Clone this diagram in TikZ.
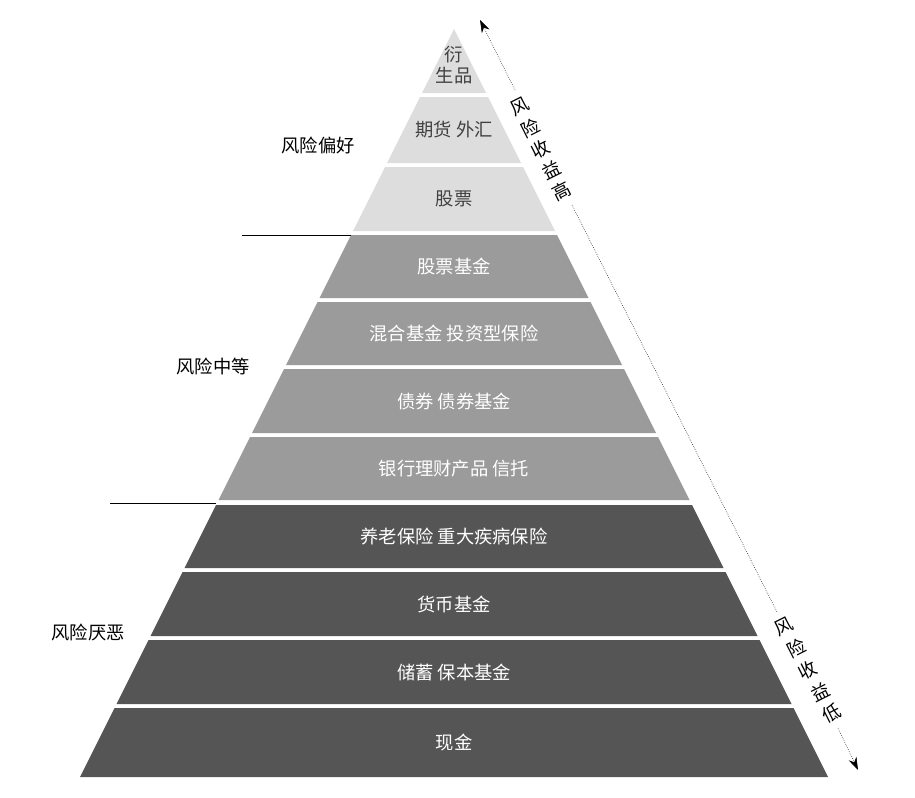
\documentclass[tikz,border=0pt]{standalone}
\usepackage{fontspec}
\setmainfont{Noto Sans CJK SC}
\usetikzlibrary{arrows.meta}
\definecolor{lightband}{RGB}{221,221,221}
\definecolor{midband}{RGB}{155,155,155}
\definecolor{darkband}{RGB}{85,85,85}
\tikzset{
  band/.style={draw=none},
  bandtext/.style={font=\fontsize{13}{15}\selectfont, align=center},
  sidelabel/.style={font=\fontsize{13}{15}\selectfont},
  arrowchar/.style={font=\fontsize{13}{15}\selectfont, rotate=26.7, inner sep=0.5pt}
}
\begin{document}
\begin{tikzpicture}[x=0.025cm,y=-0.025cm]
        \useasboundingbox (0,0) rectangle (915,797);
        % bands: top, bottom, colour, text colour, text
        \foreach \t/\b/\c/\tc/\txt/\nm in {
            29/93/lightband/black!75/{衍\\生品}/b1,
            97/163/lightband/black!75/{期货 外汇}/b2,
            167/231/lightband/black!75/{股票}/b3,
            235/298/midband/white/{股票基金}/b4,
            302/365/midband/white/{混合基金 投资型保险}/b5,
            369/433/midband/white/{债券 债券基金}/b6,
            437/500/midband/white/{银行理财产品 信托}/b7,
            505/568/darkband/white/{养老保险 重大疾病保险}/b8,
            572/636/darkband/white/{货币基金}/b9,
            640/704/darkband/white/{储蓄 保本基金}/b10,
            708/777/darkband/white/{现金}/b11} {
          \fill[band, \c] ({454-(\t-29)*0.5},\t) -- ({454+(\t-29)*0.5},\t)
            -- ({454+(\b-29)*0.5},\b) -- ({454-(\b-29)*0.5},\b) -- cycle;
          \node[bandtext, text=\tc] (\nm) at (454,{(\t+\b)/2+(\t==29 ? 4 : 0)}) {\txt};
        }
        % groups on the left
        \node[sidelabel] (like)  at (318,145) {风险偏好};
        \node[sidelabel] (mid)   at (213,366) {风险中等};
        \node[sidelabel] (avert) at (88,632)  {风险厌恶};
        \coordinate (s1) at (242,235);
        \coordinate (e1) at (351,235);
        \coordinate (s2) at (110,503);
        \coordinate (e2) at (216,503);
        \draw (s1) -- (e1);
        \draw (s2) -- (e2);
        % arrow on the right
        \coordinate (tip)  at (480,20);
        \coordinate (hiA)  at (515,90);
        \coordinate (hiB)  at (572,205);
        \coordinate (loA)  at (777,612);
        \coordinate (loB)  at (838,728);
        \coordinate (tail) at (858,770);
        \draw[densely dotted, -{Stealth[length=9pt,width=6pt,sep=0pt]}, arrows={[line width=0.4pt]}] (hiA) -- (tip);
        \draw[densely dotted] (hiB) -- (loA);
        \draw[densely dotted, -{Stealth[length=9pt,width=6pt]}] (loB) -- (tail);
        \foreach \ch [count=\i] in {风,险,收,益,高}
          \node[arrowchar] (h\i) at ({520+(\i-1)*10.5},{107+(\i-1)*21}) {\ch};
        \foreach \ch [count=\i] in {风,险,收,益,低}
          \node[arrowchar] (l\i) at ({784+(\i-1)*12},{627+(\i-1)*21.5}) {\ch};
\end{tikzpicture}
\end{document}
